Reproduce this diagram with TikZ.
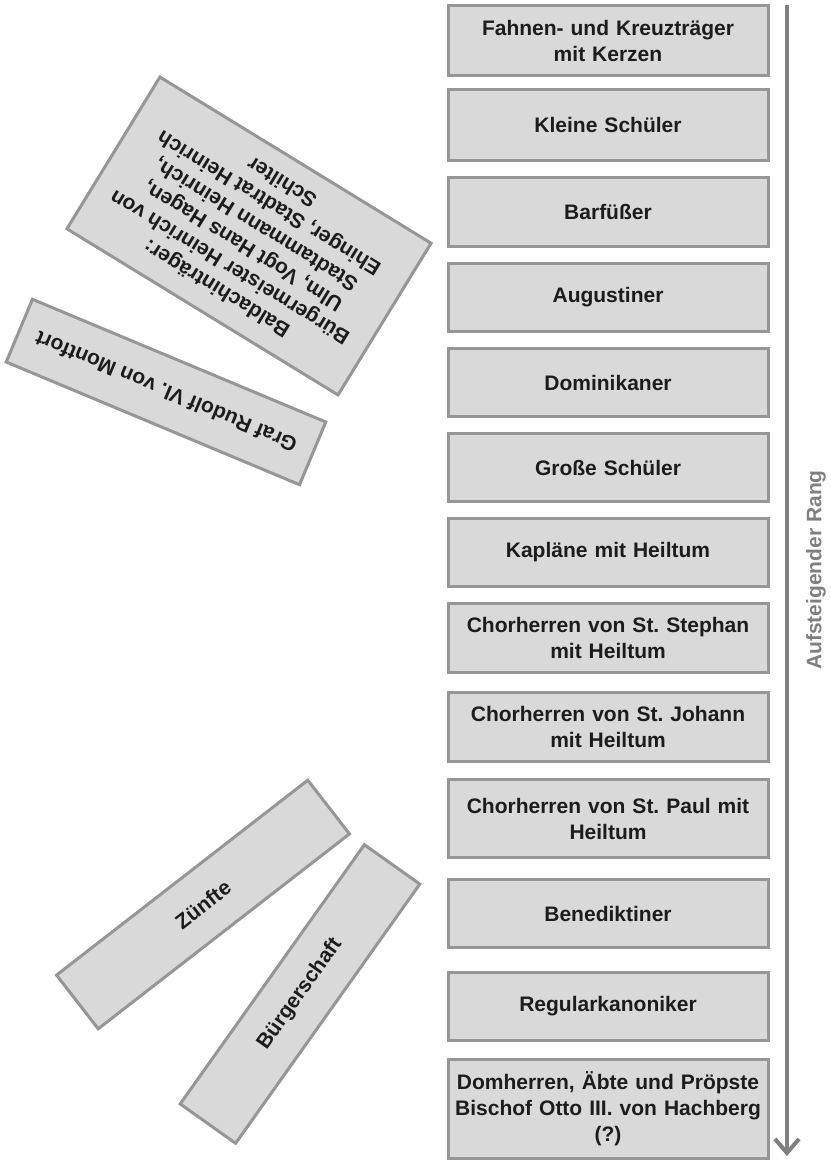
\documentclass[tikz,border=0pt]{standalone}
\usepackage{fontspec}
\setmainfont{Liberation Sans}
\usetikzlibrary{arrows.meta}
\definecolor{boxfill}{HTML}{D9D9D9}
\definecolor{boxline}{HTML}{969696}
\definecolor{txt}{HTML}{1C1C1C}
\definecolor{arrowgray}{HTML}{7F7F7F}
\frenchspacing
\tikzset{
  rankbox/.style={draw=boxline, fill=boxfill, line width=3pt, inner sep=0pt,
    minimum width=320pt, text width=318pt, align=center, text=txt,
    font=\bfseries\fontsize{21}{26}\selectfont},
  tiltbox/.style={draw=boxline, fill=boxfill, line width=3pt, inner sep=0pt,
    minimum width=318pt, align=center, text=txt,
    font=\bfseries\fontsize{21}{25}\selectfont},
  rankarrow/.style={draw=arrowgray, line width=3.5pt,
    -{Straight Barb[length=14pt,width=24pt,line width=4pt]}},
}
\begin{document}
\begin{tikzpicture}[x=1pt,y=-1pt]
\useasboundingbox (0,0) rectangle (830,1161);
\node[rankbox, minimum height=70pt] (b1) at (608,40.5) {Fahnen- und Kreuzträger\\mit Kerzen};
\node[rankbox, minimum height=71pt] (b2) at (608,125) {Kleine Schüler};
\node[rankbox, minimum height=69pt] (b3) at (608,212) {Barfüßer};
\node[rankbox, minimum height=68pt] (b4) at (608,297.5) {Augustiner};
\node[rankbox, minimum height=68pt] (b5) at (608,382.5) {Dominikaner};
\node[rankbox, minimum height=68pt] (b6) at (608,467.5) {Große Schüler};
\node[rankbox, minimum height=68pt] (b7) at (608,552.5) {Kapläne mit Heiltum};
\node[rankbox, minimum height=69pt] (b8) at (608,638) {Chorherren von St. Stephan\\mit Heiltum};
\node[rankbox, minimum height=69pt] (b9) at (608,727) {Chorherren von St. Johann\\mit Heiltum};
\node[rankbox, minimum height=78pt] (b10) at (608,818.5) {Chorherren von St. Paul mit\\Heiltum};
\node[rankbox, minimum height=68pt] (b11) at (608,913.5) {Benediktiner};
\node[rankbox, minimum height=68pt] (b12) at (608,1006.5) {Regularkanoniker};
\node[rankbox, minimum height=99pt] (b13) at (608,1109) {Domherren, Äbte und Pröpste\\Bischof Otto III. von Hachberg\\(?)};
\coordinate (atop) at (787,5);
\coordinate (abot) at (787,1156);
\draw[rankarrow] (atop) -- (abot);
\node[rotate=90, text=arrowgray, font=\bfseries\fontsize{21}{25}\selectfont] (rang) at (816,570) {Aufsteigender Rang};
\node[tiltbox, minimum height=178pt, rotate=148.5] (bald) at (249,236)
  {Baldachinträger:\\Bürgermeister Heinrich von\\Ulm, Vogt Hans Hagen,\\Stadtammann Heinrich,\\Ehinger, Stadtrat Heinrich\\Schilter};
\node[tiltbox, minimum height=68pt, rotate=157.3] (graf) at (166,392) {Graf Rudolf VI. von Montfort};
\node[tiltbox, minimum height=68pt, rotate=37.8] (zuenfte) at (203,904.5) {Zünfte};
\node[tiltbox, minimum height=68pt, rotate=54.6] (buerger) at (300,994) {Bürgerschaft};
\end{tikzpicture}
\end{document}
